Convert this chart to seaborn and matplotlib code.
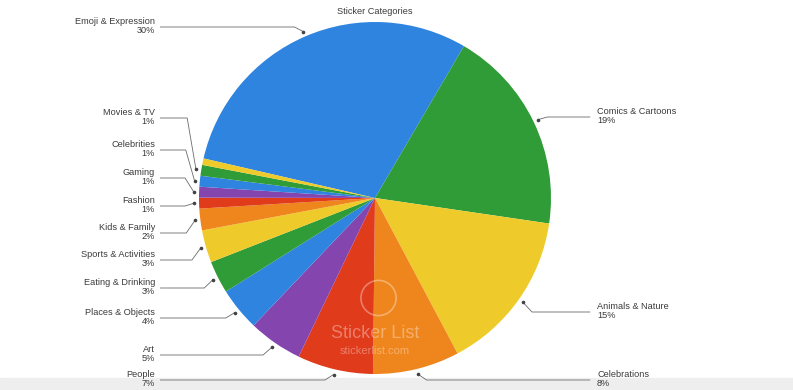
import matplotlib
matplotlib.use("Agg")
import matplotlib.pyplot as plt
import seaborn as sns
import numpy as np

sns.set_style("white")
plt.rcParams['font.family'] = ['Liberation Sans', 'DejaVu Sans']

# slice data, clockwise from the top-left
categories = ['Emoji & Expression', 'Comics & Cartoons', 'Animals & Nature', 'Celebrations',
              'People', 'Art', 'Places & Objects', 'Eating & Drinking', 'Sports & Activities',
              'Kids & Family', 'Fashion', 'Gaming', 'Celebrities', 'Movies & TV', 'Other']
shares = [30, 19, 15, 8, 7, 5, 4, 3, 3, 2, 1, 1, 1, 1, 0.6]
pct_labels = ['30%', '19%', '15%', '8%', '7%', '5%', '4%', '3%', '3%', '2%', '1%', '1%', '1%', '1%', '']

base = ['#2f84df', '#2f9c38', '#eecb2b', '#ef851d', '#e03b1b', '#8545ae']
colors = [base[i % 6] for i in range(len(shares))]

# label layout (pixel y of the leader line) per category
side = ['L', 'R', 'R', 'R', 'L', 'L', 'L', 'L', 'L', 'L', 'L', 'L', 'L', 'L', None]
label_py = [27, 117, 312, 380, 380, 355, 318, 288, 260, 233, 206, 178, 150, 118, None]

W, H = 793, 390
cx, cy, R = 375, 198, 176

fig = plt.figure(figsize=(W / 100, H / 100), dpi=100)
ax = fig.add_axes([0, 0, 1, 1])

# light grey strip at the bottom
ax.axhspan(-(H - cy) / R, -(378 - cy) / R, color='#eeeeee', zorder=0)

wedges, _ = ax.pie(shares, colors=colors, startangle=167, counterclock=False,
                   radius=1.0, wedgeprops=dict(linewidth=0), frame=True)
ax.set_xlim(-cx / R, (W - cx) / R)
ax.set_ylim(-(H - cy) / R, cy / R)
ax.set_aspect('auto')
ax.axis('off')

def py(v):
    return (cy - v) / R

line_c = '#6b6b6b'
txt_c = '#3a3a3a'
for w, cat, pct, sd, lp in zip(wedges, categories, pct_labels, side, label_py):
    if sd is None:
        continue
    mid = np.deg2rad((w.theta1 + w.theta2) / 2)
    ax_, ay_ = 1.03 * np.cos(mid), 1.03 * np.sin(mid)
    ly = py(lp)
    if sd == 'L':
        tx = (155 - cx) / R
        knee = max(ax_ - 0.05, tx + 0.03)
        ax.plot([tx + 0.03, knee, ax_], [ly, ly, ay_], color=line_c, lw=0.6, zorder=3)
        ax.text(tx, ly + 0.005, cat + '\n' + pct, ha='right', va='center', fontsize=6.6,
                color=txt_c, linespacing=1.1)
    else:
        tx = (597 - cx) / R
        knee = min(ax_ + 0.05, tx - 0.04)
        ax.plot([tx - 0.04, knee, ax_], [ly, ly, ay_], color=line_c, lw=0.6, zorder=3)
        ax.text(tx, ly + 0.005, cat + '\n' + pct, ha='left', va='center', fontsize=6.6,
                color=txt_c, linespacing=1.1)
    ax.plot([ax_], [ay_], 'o', ms=1.6, color='#444444', zorder=4)

ax.text(0, py(12), 'Sticker Categories', ha='center', va='center', fontsize=6.6, color=txt_c)

# watermark
ax.add_patch(plt.Circle((0.02, py(298)), 0.1, fill=False, ec='white', alpha=0.35, lw=1.2))
ax.text(0.0, py(333), 'Sticker List', ha='center', va='center', fontsize=13,
        color='white', alpha=0.35)
ax.text(0.0, py(351), 'stickerlist.com', ha='center', va='center', fontsize=8,
        color='white', alpha=0.35)

fig.savefig('out.png', dpi=100)
